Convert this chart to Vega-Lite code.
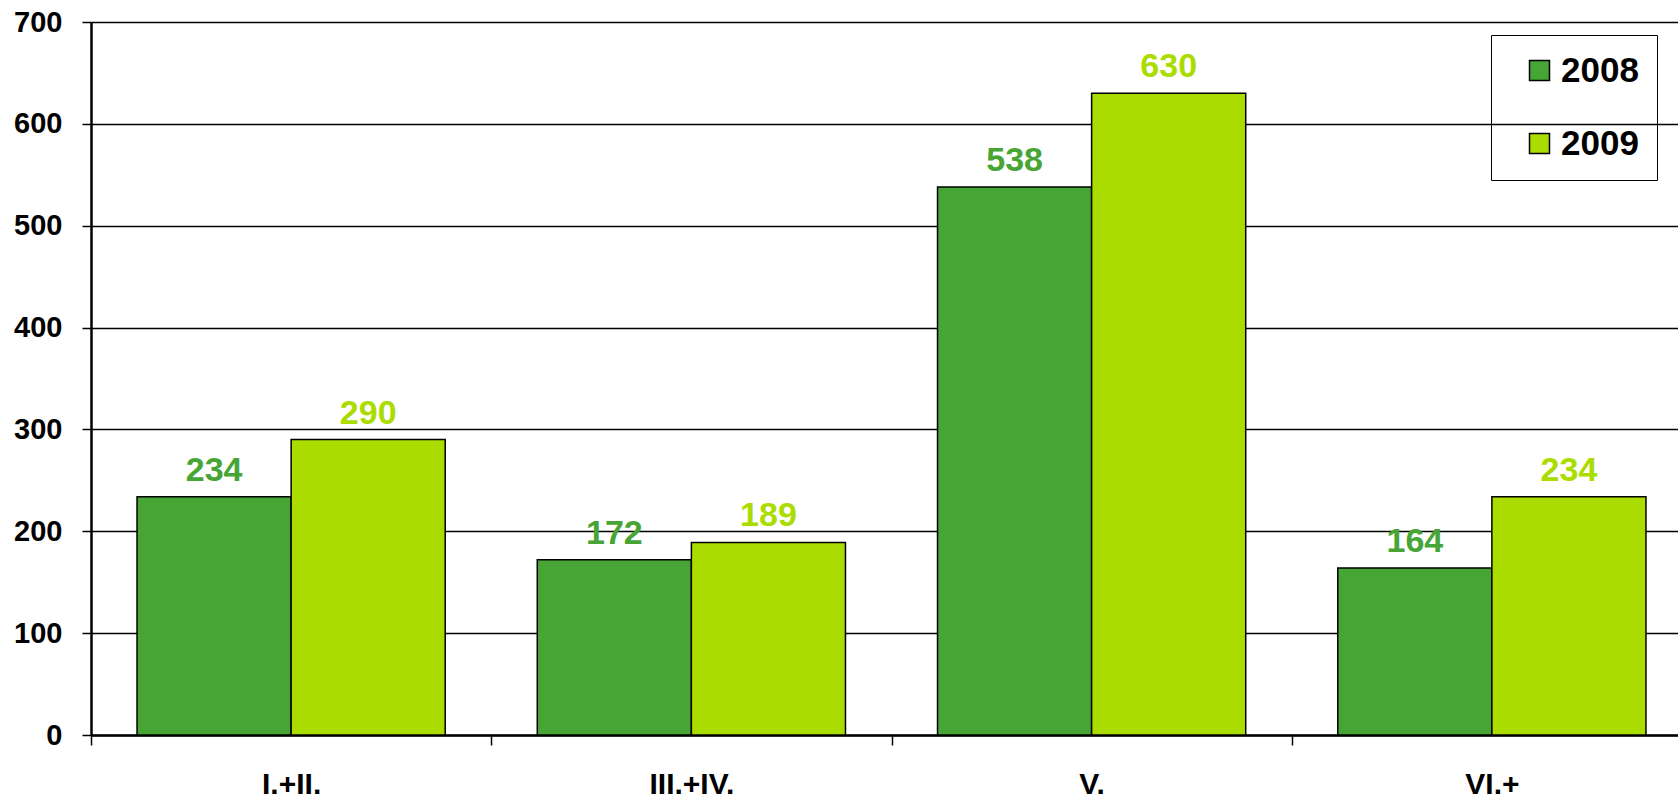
{
  "$schema": "https://vega.github.io/schema/vega-lite/v6.json",
  "autosize": "none",
  "padding": {"left": 91, "top": 22, "right": 0, "bottom": 66},
  "width": 1601,
  "height": 713,
  "background": "white",
  "data": {"values": [
    {"group": "I.+II.", "year": "2008", "value": 234},
    {"group": "I.+II.", "year": "2009", "value": 290},
    {"group": "III.+IV.", "year": "2008", "value": 172},
    {"group": "III.+IV.", "year": "2009", "value": 189},
    {"group": "V.", "year": "2008", "value": 538},
    {"group": "V.", "year": "2009", "value": 630},
    {"group": "VI.+", "year": "2008", "value": 164},
    {"group": "VI.+", "year": "2009", "value": 234}
  ]},
  "config": {
    "font": "Liberation Sans",
    "view": {"stroke": null}
  },
  "encoding": {
    "x": {
      "field": "group", "type": "nominal", "sort": null,
      "scale": {"paddingInner": 0.23, "paddingOuter": 0.115},
      "axis": {
        "title": null,
        "labelAngle": 0,
        "labelFont": "Liberation Sans",
        "labelFontWeight": "bold",
        "labelFontSize": 30,
        "labelColor": "black",
        "labelPadding": 24,
        "bandPosition": 0,
        "tickOffset": -46,
        "labelOffset": 46,
        "tickSize": 10,
        "tickColor": "black",
        "tickWidth": 1.5,
        "domainColor": "black",
        "domainWidth": 2.5,
        "grid": false
      }
    },
    "xOffset": {"field": "year", "type": "nominal", "scale": {"paddingInner": 0, "paddingOuter": 0}},
    "y": {
      "field": "value", "type": "quantitative",
      "scale": {"domain": [0, 700], "nice": false},
      "axis": {
        "title": null,
        "values": [0, 100, 200, 300, 400, 500, 600, 700],
        "labelFont": "Liberation Sans",
        "labelFontWeight": "bold",
        "labelFontSize": 29,
        "labelColor": "black",
        "labelPadding": 20,
        "tickSize": 9,
        "tickColor": "black",
        "tickWidth": 1.5,
        "domainColor": "black",
        "domainWidth": 2.5,
        "grid": true,
        "gridColor": "black",
        "gridWidth": 1.5,
        "gridOpacity": 1
      }
    }
  },
  "layer": [
    {
      "mark": {"type": "bar", "stroke": "black", "strokeWidth": 1.5},
      "encoding": {
        "color": {
          "field": "year", "type": "nominal",
          "scale": {"domain": ["2008", "2009"], "range": ["#46A535", "#AADC00"]},
          "legend": {
            "title": null,
            "orient": "none",
            "legendX": 1400,
            "legendY": 13,
            "strokeColor": "black",
            "padding": 18,
            "symbolType": "square",
            "symbolSize": 400,
            "symbolStrokeColor": "black",
            "symbolStrokeWidth": 1.5,
            "symbolOpacity": 1,
            "symbolOffset": 13,
            "labelFont": "Liberation Sans",
            "labelFontWeight": "bold",
            "labelFontSize": 35,
            "labelColor": "black",
            "labelOffset": 4,
            "rowPadding": 37
          }
        }
      }
    },
    {
      "mark": {"type": "text", "baseline": "alphabetic", "dy": -16, "fontSize": 34, "fontWeight": "bold", "font": "Liberation Sans"},
      "encoding": {
        "text": {"field": "value", "type": "quantitative"},
        "color": {"condition": {"test": "datum.year === '2008'", "value": "#46A535"}, "value": "#AADC00"}
      }
    }
  ]
}
